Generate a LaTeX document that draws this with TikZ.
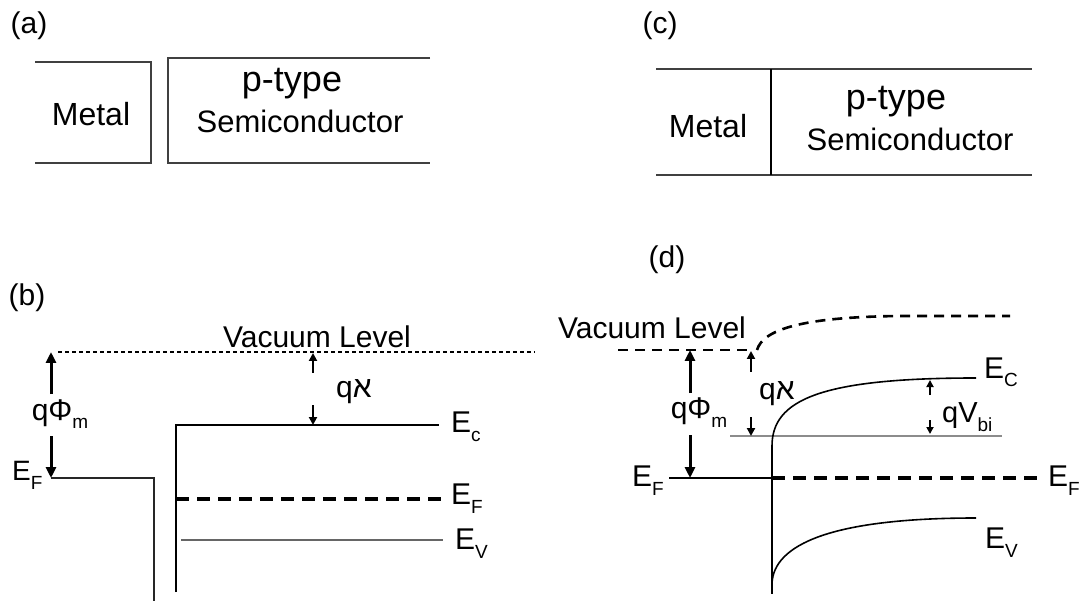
\documentclass[tikz,border=0pt]{standalone}
\usepackage{fontspec}
\setmainfont{Liberation Sans}
\newfontfamily\hebfont[Script=Hebrew]{Liberation Sans}
\TeXXeTstate=1
\usetikzlibrary{arrows.meta}
\newcommand{\qchi}{q{\hebfont\beginR א\endR}}
\newcommand{\lowsub}[1]{\raisebox{-9pt}{\fontsize{19}{19}\selectfont #1}}
\tikzset{
  boxline/.style={line width=2pt, draw=black!75},
  lvl/.style={line width=2pt, draw=black},
  graylvl/.style={line width=2.2pt, draw=black!45},
  thinlvl/.style={line width=1.5pt, draw=black!85},
  efdash/.style={line width=4pt, dash pattern=on 13pt off 8pt},
  vacdot/.style={line width=1.5pt, dash pattern=on 4pt off 3pt},
  vacdash/.style={line width=2.6pt, dash pattern=on 10pt off 7pt},
  arr/.style={line width=3pt, -{Triangle[length=11pt,width=10pt]}},
  sarr/.style={line width=2.4pt, -{Triangle[length=8pt,width=8pt]}},
  lab/.style={font=\fontsize{30}{34}\selectfont, inner sep=0pt},
  elab/.style={font=\fontsize{30}{34}\selectfont, inner sep=0pt, anchor=base west},
  big/.style={font=\fontsize{36}{40}\selectfont, inner sep=0pt},
  txt/.style={font=\fontsize{31}{34}\selectfont, inner sep=0pt},
}
\begin{document}
\begin{tikzpicture}[x=1pt,y=-1pt]
\useasboundingbox (0,0) rectangle (1084,601);
\fill[white] (0,0) rectangle (1084,601);

% ---------------- (a) ----------------
\node[lab, anchor=base] (la) at (29,34) {(a)};
\coordinate (am1) at (35,62);  \coordinate (am2) at (151,62);
\coordinate (am3) at (151,163); \coordinate (am4) at (35,163);
\draw[boxline] (am1) -- (am2) -- (am3) -- (am4);
\coordinate (as1) at (430,58); \coordinate (as2) at (168,58);
\coordinate (as3) at (168,163); \coordinate (as4) at (430,163);
\draw[boxline] (as1) -- (as2) -- (as3) -- (as4);
\node[font=\fontsize{32}{34}\selectfont, inner sep=0pt, anchor=base] (ametal) at (91,126) {Metal};
\node[big, anchor=base] (aptype) at (292,92) {p-type};
\node[txt, anchor=base] (asemi) at (300,133) {Semiconductor};

% ---------------- (c) ----------------
\node[lab, anchor=base] (lc) at (660,34) {(c)};
\coordinate (ct1) at (656,69); \coordinate (ct2) at (1032,69);
\coordinate (cb1) at (656,175); \coordinate (cb2) at (1032,175);
\coordinate (cv1) at (771,69); \coordinate (cv2) at (771,175);
\draw[boxline] (ct1) -- (ct2);
\draw[boxline] (cb1) -- (cb2);
\draw[line width=1.6pt] (cv1) -- (cv2);
\node[font=\fontsize{32}{34}\selectfont, inner sep=0pt, anchor=base] (cmetal) at (708,138) {Metal};
\node[big, anchor=base] (cptype) at (896,110) {p-type};
\node[txt, anchor=base] (csemi) at (910,151) {Semiconductor};

% ---------------- (b) ----------------
\node[lab, anchor=base] (lb) at (27,306) {(b)};
\coordinate (bvac1) at (58,352); \coordinate (bvac2) at (535,352);
\draw[vacdot] (bvac1) -- (bvac2);
\node[lab, anchor=base] (bvaclab) at (317,348) {Vacuum Level};
% metal
\coordinate (bm1) at (51,478); \coordinate (bm2) at (154,478); \coordinate (bm3) at (154,601);
\draw[thinlvl] (bm1) -- (bm2) -- (bm3);
% semiconductor
\coordinate (bs0) at (176,592); \coordinate (bs1) at (176,425); \coordinate (bs2) at (439,425);
\draw[lvl] (bs0) -- (bs1) -- (bs2);
\coordinate (bef1) at (176,499); \coordinate (bef2) at (446,499);
\draw[efdash] (bef1) -- (bef2);
\coordinate (bev1) at (181,540); \coordinate (bev2) at (443,540);
\draw[graylvl, draw=black!60] (bev1) -- (bev2);
% labels
\node[elab] (bEc) at (451,432) {E\lowsub{c}};
\node[elab] (bEF) at (451,504) {E\lowsub{F}};
\node[elab] (bEV) at (455,549) {E\lowsub{V}};
\node[elab, font=\fontsize{28}{30}\selectfont] (bEFm) at (12,480) {E\lowsub{F}};
% q Phi_m arrows
\node[lab, anchor=base] (bphi) at (60,420) {qΦ\lowsub{m}};
\coordinate (bpa1) at (51,394); \coordinate (bpa2) at (51,352);
\coordinate (bpb1) at (51,436); \coordinate (bpb2) at (51,478);
\draw[arr] (bpa1) -- (bpa2);
\draw[arr] (bpb1) -- (bpb2);
% q chi arrows
\node[lab] (bchi) at (354,392) {\qchi};
\coordinate (bca1) at (313,373); \coordinate (bca2) at (313,353);
\coordinate (bcb1) at (313,405); \coordinate (bcb2) at (313,425);
\draw[sarr] (bca1) -- (bca2);
\draw[sarr] (bcb1) -- (bcb2);

% ---------------- (d) ----------------
\node[lab, anchor=base] (ld) at (667,268) {(d)};
\node[lab, anchor=base] (dvaclab) at (652,339) {Vacuum Level};
\coordinate (dvac1) at (618,350); \coordinate (dvac2) at (752,350);
\draw[vacdash] (dvac1) -- (dvac2);
\coordinate (dvc0) at (757,350); \coordinate (dvc1) at (900,316); \coordinate (dvc2) at (1010,316);
\draw[vacdash] (dvc0) .. controls (763,330) and (800,317) .. (dvc1) -- (dvc2);
% Fermi levels
\coordinate (def1) at (669,478); \coordinate (def2) at (772,478); \coordinate (def3) at (1041,478);
\draw[line width=1.5pt] (def1) -- (def2);
\draw[efdash] (def2) -- (def3);
\node[elab, anchor=base east] (dEFl) at (664,486) {E\lowsub{F}};
\node[elab] (dEFr) at (1048,486) {E\lowsub{F}};
% barrier reference line
\coordinate (dg1) at (730,436); \coordinate (dg2) at (1002,436);
\draw[graylvl] (dg1) -- (dg2);
% interface and bands
\coordinate (dint1) at (772,446); \coordinate (dint2) at (772,594);
\draw[line width=1.8pt] (dint1) -- (dint2);
\coordinate (dec1) at (976,378);
\draw[line width=1.6pt] (dint1) .. controls (772,400) and (820,378) .. (dec1);
\coordinate (dev0) at (772,583); \coordinate (dev1) at (976,518);
\draw[line width=1.6pt] (dev0) .. controls (774,545) and (830,518) .. (dev1);
\node[elab] (dEc) at (984,378) {E\lowsub{C}};
\node[elab] (dEV) at (985,548) {E\lowsub{V}};
% q Phi_m
\node[lab, anchor=base] (dphi) at (699,418) {qΦ\lowsub{m}};
\coordinate (dpa1) at (690,393); \coordinate (dpa2) at (690,350);
\coordinate (dpb1) at (690,435); \coordinate (dpb2) at (690,478);
\draw[arr] (dpa1) -- (dpa2);
\draw[arr] (dpb1) -- (dpb2);
% q chi
\node[lab] (dchi) at (777,394) {\qchi};
\coordinate (dca1) at (751,372); \coordinate (dca2) at (751,351);
\coordinate (dcb1) at (751,417); \coordinate (dcb2) at (751,436);
\draw[sarr] (dca1) -- (dca2);
\draw[sarr] (dcb1) -- (dcb2);
% q V_bi
\node[lab, anchor=base west, font=\fontsize{29}{30}\selectfont] (dvbi) at (942,422) {qV\lowsub{bi}};
\coordinate (dva1) at (930,395); \coordinate (dva2) at (930,380);
\coordinate (dvb1) at (930,420); \coordinate (dvb2) at (930,434);
\draw[sarr, line width=2pt, -{Triangle[length=7pt,width=7pt]}] (dva1) -- (dva2);
\draw[sarr, line width=2pt, -{Triangle[length=7pt,width=7pt]}] (dvb1) -- (dvb2);
\end{tikzpicture}
\end{document}
